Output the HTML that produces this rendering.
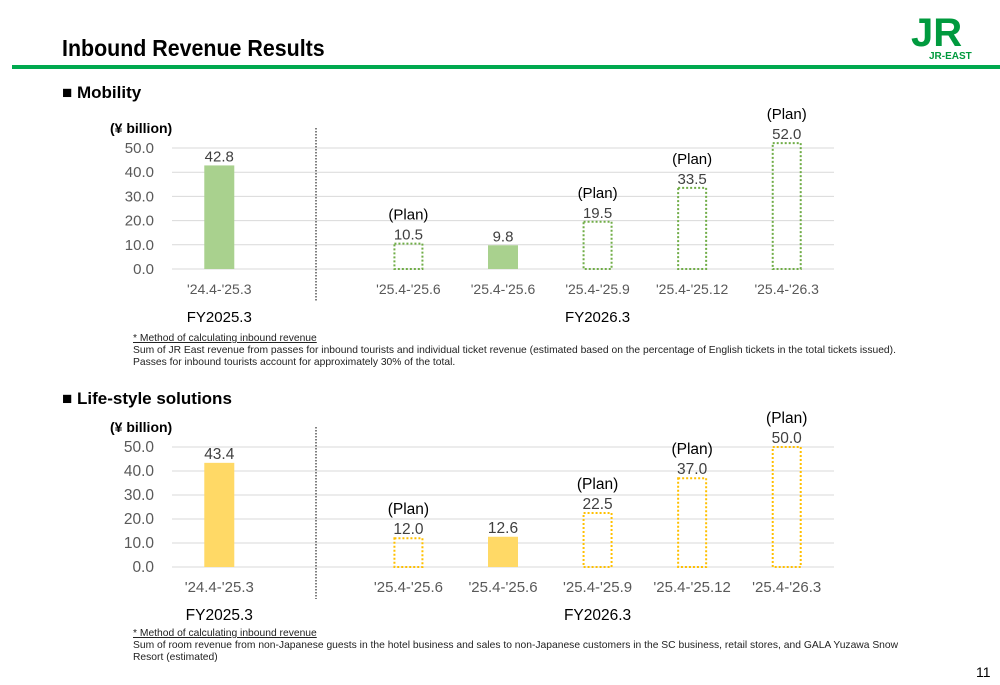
<!DOCTYPE html>
<html><head><meta charset="utf-8"><style>
body{margin:0;width:1000px;height:685px;background:#fff;font-family:"Liberation Sans",sans-serif;position:relative;overflow:hidden}
.a{position:absolute}
</style></head><body>
<div class="a" style="left:62px;top:35px;font-size:23px;font-weight:bold;color:#000;transform:scaleX(0.93);transform-origin:left">Inbound Revenue Results</div>
<div class="a" style="left:12px;top:65px;width:988px;height:4px;background:#00a94f"></div>
<svg class="a" style="left:905px;top:8px" width="80" height="54"><text x="6" y="38" font-size="40" font-weight="bold" fill="#009a3e" font-family="Liberation Sans">JR</text><text x="24" y="51" font-size="10" font-weight="bold" fill="#009a3e" font-family="Liberation Sans">JR-EAST</text></svg>
<div class="a" style="left:62px;top:83px;font-size:17px;font-weight:bold">■ Mobility</div>
<div class="a" style="left:62px;top:389px;font-size:17px;font-weight:bold">■ Life-style solutions</div>
<div class="a" style="left:133px;top:333px;font-size:10.3px;line-height:12px;color:#222"><u>* Method of calculating inbound revenue</u><br>Sum of JR East revenue from passes for inbound tourists and individual ticket revenue (estimated based on the percentage of English tickets in the total tickets issued).<br>Passes for inbound tourists account for approximately 30% of the total.</div>
<div class="a" style="left:133px;top:628px;font-size:10.3px;line-height:12px;color:#222"><u>* Method of calculating inbound revenue</u><br>Sum of room revenue from non-Japanese guests in the hotel business and sales to non-Japanese customers in the SC business, retail stores, and GALA Yuzawa Snow<br>Resort (estimated)</div>
<div class="a" style="left:976px;top:664px;font-size:14px">11</div>
<svg id="svg" class="a" style="left:0;top:0" width="1000" height="685"></svg>
<script>
const categories=["'24.4-'25.3","","'25.4-'25.6","'25.4-'25.6","'25.4-'25.9","'25.4-'25.12","'25.4-'26.3"];
const mobilityValues=[42.8,null,10.5,9.8,19.5,33.5,52.0];
const lifestyleValues=[43.4,null,12.0,12.6,22.5,37.0,50.0];
const isPlan=[false,false,true,false,true,true,true];
const yTicks=[0,10,20,30,40,50];
const groupLabels=["FY2025.3","FY2026.3"];
const NS="http://www.w3.org/2000/svg";
const svg=document.getElementById('svg');
function mk(t,a,p){const e=document.createElementNS(NS,t);for(const k in a)e.setAttribute(k,a[k]);(p||svg).appendChild(e);return e;}
function chart(name,vals,y0,y50,color,stroke,fs,xfs){
 const g=mk('g',{});
 
 
 const x0=172,x1=834,slot=(x1-x0)/categories.length;
 const xs=i=>x0+slot*(i+0.5);
 const ys=v=>y0-(y0-y50)*v/50;
 yTicks.forEach(t=>{
  const l=mk('line',{x1:x0,x2:x1,y1:ys(t),y2:ys(t),stroke:'#d9d9d9','stroke-width':1},g);
  
  
  const tx=mk('text',{x:154,y:ys(t)+5,'text-anchor':'end','font-size':fs,fill:'#595959'},g);
  tx.textContent=t.toFixed(1);
  
  
 });
 const u=mk('text',{x:110,y:y50-15,'font-size':14,'font-weight':'bold'},g);u.textContent='(¥ billion)';
 
 
 mk('line',{x1:316,x2:316,y1:y50-20,y2:y0+32,stroke:'#000','stroke-dasharray':'1.5,1.5'},g);
 vals.forEach((v,i)=>{
  if(categories[i]){const c=mk('text',{x:xs(i),y:y0+25,'text-anchor':'middle','font-size':xfs,fill:'#595959'},g);c.textContent=categories[i];
  
  }
  if(v==null)return;
  const bw=30,x=xs(i)-bw/2,y=ys(v);
  const r=isPlan[i]?mk('rect',{x:x+1,y:y,width:bw-2,height:y0-y,fill:'none',stroke:stroke,'stroke-width':2,'stroke-dasharray':'2,2'},g):mk('rect',{x:x,y:y,width:bw,height:y0-y,fill:color},g);
  
  
  const lt=mk('text',{x:xs(i),y:y-4,'text-anchor':'middle','font-size':fs,fill:'#404040'},g);lt.textContent=v.toFixed(1);
  
  
  if(isPlan[i]){const p=mk('text',{x:xs(i),y:y-24,'text-anchor':'middle','font-size':fs,fill:'#000'},g);p.textContent='(Plan)';
  
  }
 });
 [[xs(0),groupLabels[0]],[xs(4),groupLabels[1]]].forEach(([x,t])=>{const e=mk('text',{x:x,y:y0+53,'text-anchor':'middle','font-size':fs,fill:'#000'},g);e.textContent=t;
 
 });
}
chart('mobility-chart',mobilityValues,269,148,'#a9d18e','#70ad47',15,14);
chart('lifestyle-chart',lifestyleValues,567,447,'#ffd966','#ffc000',15.5,15);
</script>
</body></html>
